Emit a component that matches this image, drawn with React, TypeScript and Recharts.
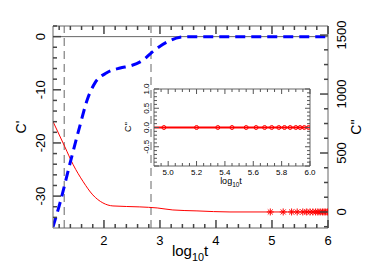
import React from "react";
import {
  ComposedChart,
  Line,
  Scatter,
  XAxis,
  YAxis,
  ReferenceLine,
  ReferenceArea,
} from "recharts";

// C' (blue dashed, left axis) vs log10 t
const blueX = [1.09, 1.22, 1.39, 1.57, 1.7, 1.84, 2.05, 2.29, 2.47, 2.7, 2.86, 3.13, 3.36, 3.54, 6.0];
const blueY = [-35.8, -31.1, -24.0, -16.8, -11.9, -8.7, -6.8, -5.9, -5.5, -4.4, -2.9, -1.0, -0.1, 0, 0];

// C'' (red, right axis) vs log10 t
const redX = [1.09, 1.3, 1.45, 1.63, 1.8, 1.98, 2.16, 2.64, 2.95, 3.23, 3.66, 4.25, 6.0];
const redY = [767, 554, 401, 256, 145, 77, 51, 43, 34, 17, 9, 0, 0];

// late-time samples (stars in main plot, circles in inset)
const tailX = [4.97, 5.2, 5.35, 5.45, 5.55, 5.62, 5.68, 5.73, 5.78, 5.82, 5.86, 5.9, 5.93, 5.96, 5.99];
const tailY = [0, 0, 0, 0, 0, 0, 0, 0, 0, 0, 0, 0, 0, 0, 0];

const insetLineX = [4.9, 6.0];
const insetLineY = [0, 0];

const mainXTicks = Array.from({ length: 25 }, (_, i) => +(1.2 + i * 0.2).toFixed(2));
const leftTicks = Array.from({ length: 19 }, (_, i) => -34 + i * 2);
const rightTicks = Array.from({ length: 14 }, (_, i) => -125 + i * 125);
const insetXTicks = Array.from({ length: 22 }, (_, i) => +(4.95 + i * 0.05).toFixed(2));
const insetYTicks = Array.from({ length: 21 }, (_, i) => +(-1 + i * 0.1).toFixed(1));

const blueData = blueX.map((x, i) => ({ x, y: blueY[i] }));
const redData = redX.map((x, i) => ({ x, y: redY[i] }));
const tailData = tailX.map((x, i) => ({ x, y: tailY[i] }));
const insetLine = insetLineX.map((x, i) => ({ x, y: insetLineY[i] }));

const AXIS = "#666666";
const TICK = "#555555";
const MAIN_TICK = "#444444";
const FONT = "'Liberation Sans', Arial, Helvetica, sans-serif";

const near = (v: number, step: number) => Math.abs(v / step - Math.round(v / step)) < 1e-6;

// tick marks point inward, drawn as one path per tick
const BottomTick = (p: any) => {
  const v = p.payload.value;
  const major = near(v, 1);
  const x = Number(p.x);
  const y = Number(p.y);
  return (
    <g>
      <path d={`M${x},${y}V${y - (major ? 8 : 4)}`} stroke={MAIN_TICK} strokeWidth={1.5} fill="none" />
      {major && (
        <text x={x} y={y + 17} textAnchor="middle" fontSize={13} fill="#000">
          {v}
        </text>
      )}
    </g>
  );
};

const TopTick = (p: any) => {
  const major = near(p.payload.value, 1);
  const x = Number(p.x);
  const y = Number(p.y);
  return <path d={`M${x},${y}V${y + (major ? 8 : 4)}`} stroke={MAIN_TICK} strokeWidth={1.5} fill="none" />;
};

const LeftTick = (p: any) => {
  const v = p.payload.value;
  const major = near(v, 10);
  const x = Number(p.x);
  const y = Number(p.y);
  return (
    <g>
      <path d={`M${x},${y}H${x + (major ? 8 : 4)}`} stroke={MAIN_TICK} strokeWidth={1.5} fill="none" />
      {major && (
        <text transform={`translate(${x - 13},${y}) rotate(-90)`} textAnchor="middle" dy="0.35em" fontSize={13} fill="#000">
          {v}
        </text>
      )}
    </g>
  );
};

const RightTick = (p: any) => {
  const v = p.payload.value;
  const major = near(v, 500);
  const x = Number(p.x);
  const y = Number(p.y);
  return (
    <g>
      <path d={`M${x},${y}H${x - (major ? 8 : 4)}`} stroke={MAIN_TICK} strokeWidth={1.5} fill="none" />
      {major && v >= 0 && (
        <text transform={`translate(${x + 13},${y}) rotate(-90)`} textAnchor="middle" dy="0.35em" fontSize={13} fill="#000">
          {v}
        </text>
      )}
    </g>
  );
};

const InsetBottomTick = (p: any) => {
  const v = p.payload.value;
  const major = near(v, 0.2);
  const x = Number(p.x);
  const y = Number(p.y);
  return (
    <g>
      <path d={`M${x},${y}V${y - (major ? 5 : 3)}`} stroke={TICK} strokeWidth={1} fill="none" />
      {major && (
        <text x={x} y={y + 9} textAnchor="middle" fontSize={8} fill="#000">
          {v.toFixed(1)}
        </text>
      )}
    </g>
  );
};

const InsetTopTick = (p: any) => {
  const major = near(p.payload.value, 0.2);
  const x = Number(p.x);
  const y = Number(p.y);
  return <path d={`M${x},${y}V${y + (major ? 5 : 3)}`} stroke={TICK} strokeWidth={1} fill="none" />;
};

const InsetLeftTick = (p: any) => {
  const v = p.payload.value;
  const major = near(v, 0.5);
  const x = Number(p.x);
  const y = Number(p.y);
  return (
    <g>
      <path d={`M${x},${y}H${x + (major ? 5 : 3)}`} stroke={TICK} strokeWidth={1} fill="none" />
      {major && v > -1 && (
        <text transform={`translate(${x - 8},${y}) rotate(-90)`} textAnchor="middle" dy="0.35em" fontSize={8} fill="#000">
          {v.toFixed(1)}
        </text>
      )}
    </g>
  );
};

const InsetRightTick = (p: any) => {
  const major = near(p.payload.value, 0.5);
  const x = Number(p.x);
  const y = Number(p.y);
  return <path d={`M${x},${y}H${x - (major ? 5 : 3)}`} stroke={TICK} strokeWidth={1} fill="none" />;
};

const Star = (p: any) => {
  const { cx, cy } = p;
  const r = 3.5;
  const d = r * 0.72;
  return (
    <g stroke="#ff0000" strokeWidth={1}>
      <line x1={cx - r} x2={cx + r} y1={cy} y2={cy} />
      <line x1={cx} x2={cx} y1={cy - r} y2={cy + r} />
      <line x1={cx - d} x2={cx + d} y1={cy - d} y2={cy + d} />
      <line x1={cx - d} x2={cx + d} y1={cy + d} y2={cy - d} />
    </g>
  );
};

const Ring = (p: any) => <circle cx={p.cx} cy={p.cy} r={2} fill="none" stroke="#ff0000" strokeWidth={1} />;

function LogLabel({ x, y, size }: { x: number; y: number; size: number }) {
  return (
    <text x={x} y={y} textAnchor="middle" fontSize={size} fill="#000">
      log
      <tspan dy={size * 0.3} fontSize={size * 0.72}>10</tspan>
      <tspan dy={-size * 0.3}>t</tspan>
    </text>
  );
}

export default function App() {
  return (
    <div style={{ position: "absolute", left: 0, top: 0, width: 382, height: 279, background: "#fff", fontFamily: FONT }}>
      <ComposedChart width={382} height={279} margin={{ top: 25, right: 0, bottom: 0, left: 0 }}>
        <XAxis xAxisId="b" type="number" dataKey="x" domain={[1.09, 6]} ticks={mainXTicks} interval={0}
          tickSize={0} tickMargin={0} height={51} stroke={AXIS} tick={BottomTick} allowDataOverflow />
        <XAxis xAxisId="t" orientation="top" type="number" dataKey="x" domain={[1.09, 6]} ticks={mainXTicks} interval={0}
          tickSize={0} tickMargin={0} height={1} stroke={AXIS} tick={TopTick} allowDataOverflow />
        <YAxis yAxisId="l" type="number" dataKey="y" domain={[-36, 2]} ticks={leftTicks} interval={0}
          tickSize={0} tickMargin={0} width={53} stroke={AXIS} tick={LeftTick} allowDataOverflow />
        <YAxis yAxisId="r" orientation="right" type="number" dataKey="y" domain={[-136, 1577]} ticks={rightTicks} interval={0}
          tickSize={0} tickMargin={0} width={54} stroke={AXIS} tick={RightTick} allowDataOverflow />
        <ReferenceLine xAxisId="b" yAxisId="l" y={0} stroke={AXIS} />
        <ReferenceLine xAxisId="b" yAxisId="l" x={1.29} stroke={AXIS} strokeDasharray="8 5" />
        <ReferenceLine xAxisId="b" yAxisId="l" x={2.84} stroke={AXIS} strokeDasharray="8 5" />
        <Line xAxisId="b" yAxisId="r" data={redData} dataKey="y" type="monotone" stroke="#ff0000"
          strokeWidth={1} dot={false} isAnimationActive={false} />
        <Line xAxisId="b" yAxisId="l" data={blueData} dataKey="y" type="monotone" stroke="#0000ff"
          strokeWidth={3} strokeDasharray="10 6" dot={false} isAnimationActive={false} />
        <Scatter xAxisId="b" yAxisId="r" data={tailData} dataKey="y" shape={Star} isAnimationActive={false} />
      </ComposedChart>

      <svg width={382} height={279} style={{ position: "absolute", left: 0, top: 0, pointerEvents: "none" }}>
        <text transform="translate(21,127) rotate(-90)" textAnchor="middle" dy="0.35em" fontSize={14} fill="#000">C'</text>
        <text transform="translate(356,127) rotate(-90)" textAnchor="middle" dy="0.35em" fontSize={14} fill="#000">C''</text>
        <LogLabel x={190} y={256} size={15} />
      </svg>

      <div style={{ position: "absolute", left: 100, top: 78, width: 222, height: 112 }}>
        <ComposedChart width={222} height={112} margin={{ top: 10, right: 11, bottom: 0, left: 0 }}>
          <XAxis xAxisId="b" type="number" dataKey="x" domain={[4.9, 6]} ticks={insetXTicks} interval={0}
            tickSize={0} tickMargin={0} height={24} stroke={AXIS} tick={InsetBottomTick} allowDataOverflow />
          <XAxis xAxisId="t" orientation="top" type="number" dataKey="x" domain={[4.9, 6]} ticks={insetXTicks} interval={0}
            tickSize={0} tickMargin={0} height={1} stroke={AXIS} tick={InsetTopTick} allowDataOverflow />
          <YAxis yAxisId="l" type="number" dataKey="y" domain={[-1, 1]} ticks={insetYTicks} interval={0}
            tickSize={0} tickMargin={0} width={54} stroke={AXIS} tick={InsetLeftTick} allowDataOverflow />
          <YAxis yAxisId="r" orientation="right" type="number" dataKey="y" domain={[-1, 1]} ticks={insetYTicks} interval={0}
            tickSize={0} tickMargin={0} width={1} stroke={AXIS} tick={InsetRightTick} allowDataOverflow />
          <ReferenceArea xAxisId="b" yAxisId="l" x1={4.9} x2={6} y1={-1} y2={1} fill="#fff" fillOpacity={1} stroke="none" />
          <Line xAxisId="b" yAxisId="l" data={insetLine} dataKey="y" stroke="#ff0000" strokeWidth={2}
            dot={false} isAnimationActive={false} />
          <Scatter xAxisId="b" yAxisId="l" data={tailData} dataKey="y" shape={Ring} isAnimationActive={false} />
        </ComposedChart>
        <svg width={222} height={112} style={{ position: "absolute", left: 0, top: 0, pointerEvents: "none" }}>
          <text transform="translate(28,49) rotate(-90)" textAnchor="middle" dy="0.35em" fontSize={9} fill="#000">C''</text>
          <LogLabel x={131} y={106} size={9} />
        </svg>
      </div>
    </div>
  );
}
